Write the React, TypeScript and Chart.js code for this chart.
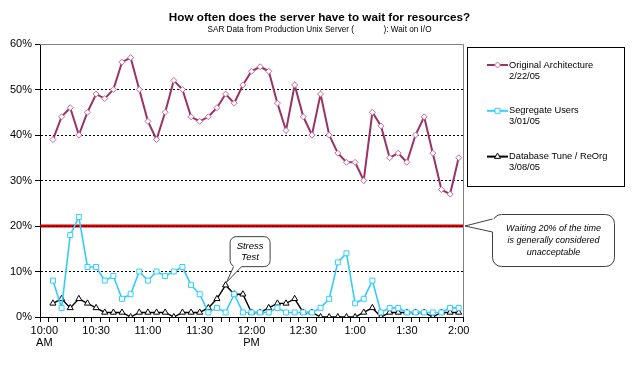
import React, { useEffect, useRef } from 'react';
import { Chart, registerables } from 'chart.js';

Chart.register(...registerables);

const FONT = "'Liberation Sans', Arial, sans-serif";

const TITLE = 'How often does the server have to wait for resources?';
const SUBTITLE = 'SAR Data from Production Unix Server (             ): Wait on I/O';

const times = [
  '10:00', '10:05', '10:10', '10:15', '10:20', '10:25', '10:30', '10:35', '10:40', '10:45', '10:50', '10:55',
  '11:00', '11:05', '11:10', '11:15', '11:20', '11:25', '11:30', '11:35', '11:40', '11:45', '11:50', '11:55',
  '12:00', '12:05', '12:10', '12:15', '12:20', '12:25', '12:30', '12:35', '12:40', '12:45', '12:50', '12:55',
  '1:00', '1:05', '1:10', '1:15', '1:20', '1:25', '1:30', '1:35', '1:40', '1:45', '1:50', '1:55',
  '2:00',
];

const tickLabels: Record<string, string[]> = {
  '10:00': ['10:00', 'AM'],
  '10:30': ['10:30'],
  '11:00': ['11:00'],
  '11:30': ['11:30'],
  '12:00': ['12:00', 'PM'],
  '12:30': ['12:30'],
  '1:00': ['1:00'],
  '1:30': ['1:30'],
  '2:00': ['2:00'],
};

const original = [
  null, 39, 44, 46, 40, 45, 49, 48, 50, 56, 57,
  50, 43, 39, 45, 52, 50, 44, 43, 44, 46,
  49, 47, 51, 54, 55, 54, 47, 41, 51, 44,
  40, 49, 40, 36, 34, 34, 30, 45, 42, 35,
  36, 34, 40, 44, 36, 28, 27, 35,
];

const segregate = [
  null, 8, 2, 18, 22, 11, 11, 8, 9, 4, 5,
  10, 8, 10, 9, 10, 11, 7, 5, 1, 2,
  1, 5, 1, 1, 1, 1, 2, 1, 1, 1,
  1, 2, 4, 12, 14, 3, 4, 8, 1, 2,
  2, 1, 1, 1, 1, 1, 2, 2,
];

const dbTune = [
  null, 3, 4, 2, 4, 3, 2, 1, 1, 1, 0,
  1, 1, 1, 1, 0, 1, 1, 1, 2, 4,
  7, 5, 5, 1, 1, 2, 3, 3, 4, 1,
  1, 0, 0, 0, 0, 0, 1, 2, 0, 1,
  1, 1, 1, 1, 0, 1, 1, 1,
];

const seriesNames = ['Original Architecture', 'Segregate Users', 'Database Tune / ReOrg'];
const seriesDates = ['2/22/05', '3/01/05', '3/08/05'];
const seriesColors = ['#993366', '#33ccff', '#000000'];
const markerColors = ['#cc6699', '#33ccff', '#000000'];
const markerStyles = ['rectRot', 'rect', 'triangle'];

const yMin = 0;
const yMax = 60;
const yStep = 10;
const threshold = 20;
const stressIndex = 21;
const stressNote = ['Stress', 'Test'];
const thresholdNote = ['Waiting 20% of the time', 'is generally considered', 'unacceptable'];

function roundRectPath(ctx: CanvasRenderingContext2D, x: number, y: number, w: number, h: number, r: number) {
  ctx.beginPath();
  ctx.moveTo(x + r, y);
  ctx.arcTo(x + w, y, x + w, y + h, r);
  ctx.arcTo(x + w, y + h, x, y + h, r);
  ctx.arcTo(x, y + h, x, y, r);
  ctx.arcTo(x, y, x + w, y, r);
  ctx.closePath();
}

function drawCallout(
  ctx: CanvasRenderingContext2D,
  box: { x: number; y: number; w: number; h: number; r: number },
  b1: [number, number],
  b2: [number, number],
  inner1: [number, number],
  inner2: [number, number],
  tip: [number, number],
  lines: string[],
  fontSize: number,
  lineGap: number,
) {
  ctx.save();
  ctx.lineWidth = 1;
  ctx.strokeStyle = '#404040';
  ctx.fillStyle = '#ffffff';
  roundRectPath(ctx, box.x, box.y, box.w, box.h, box.r);
  ctx.fill();
  ctx.stroke();
  ctx.beginPath();
  ctx.moveTo(inner1[0], inner1[1]);
  ctx.lineTo(b1[0], b1[1]);
  ctx.lineTo(tip[0], tip[1]);
  ctx.lineTo(b2[0], b2[1]);
  ctx.lineTo(inner2[0], inner2[1]);
  ctx.closePath();
  ctx.fill();
  ctx.beginPath();
  ctx.moveTo(b1[0], b1[1]);
  ctx.lineTo(tip[0], tip[1]);
  ctx.lineTo(b2[0], b2[1]);
  ctx.stroke();
  ctx.fillStyle = '#000';
  ctx.font = `italic ${fontSize}px ${FONT}`;
  ctx.textAlign = 'center';
  ctx.textBaseline = 'middle';
  const cx = box.x + box.w / 2;
  const cy = box.y + box.h / 2;
  const start = cy - ((lines.length - 1) * lineGap) / 2;
  lines.forEach((t, i) => ctx.fillText(t, cx, start + i * lineGap));
  ctx.restore();
}

function drawMarker(ctx: CanvasRenderingContext2D, style: string, x: number, y: number) {
  ctx.beginPath();
  if (style === 'rectRot') {
    const r = 3;
    ctx.moveTo(x, y - r);
    ctx.lineTo(x + r, y);
    ctx.lineTo(x, y + r);
    ctx.lineTo(x - r, y);
    ctx.closePath();
  } else if (style === 'rect') {
    const s = 2.5;
    ctx.rect(x - s, y - s, 2 * s, 2 * s);
  } else {
    const r = 3.5;
    ctx.moveTo(x, y - r);
    ctx.lineTo(x + r * 0.866, y + r * 0.5);
    ctx.lineTo(x - r * 0.866, y + r * 0.5);
    ctx.closePath();
  }
  ctx.fillStyle = '#fff';
  ctx.fill();
  ctx.stroke();
}

const decorPlugin = {
  id: 'decor',
  beforeDatasetsDraw(chart: any) {
    const { ctx, chartArea } = chart;
    const yScale = chart.scales.y;
    ctx.save();
    // plot frame top & right
    ctx.strokeStyle = '#808080';
    ctx.lineWidth = 1;
    ctx.beginPath();
    ctx.moveTo(chartArea.left, Math.round(chartArea.top) + 0.5);
    ctx.lineTo(chartArea.right + 0.5, Math.round(chartArea.top) + 0.5);
    ctx.lineTo(chartArea.right + 0.5, chartArea.bottom);
    ctx.stroke();
    // threshold line
    const ty = yScale.getPixelForValue(threshold);
    ctx.strokeStyle = '#d00000';
    ctx.lineWidth = 3;
    ctx.beginPath();
    ctx.moveTo(chartArea.left, ty);
    ctx.lineTo(chartArea.right, ty);
    ctx.stroke();
    ctx.strokeStyle = '#500000';
    ctx.lineWidth = 1;
    ctx.setLineDash([2, 2]);
    ctx.beginPath();
    ctx.moveTo(chartArea.left, Math.round(ty) + 0.5);
    ctx.lineTo(chartArea.right, Math.round(ty) + 0.5);
    ctx.stroke();
    ctx.restore();
  },
  afterDraw(chart: any) {
    const { ctx, chartArea, width } = chart;
    const xScale = chart.scales.x;
    const yScale = chart.scales.y;
    ctx.save();
    // titles
    ctx.fillStyle = '#000';
    ctx.textAlign = 'center';
    ctx.textBaseline = 'alphabetic';
    ctx.font = `bold 11.7px ${FONT}`;
    ctx.fillText(TITLE, width / 2 + 3, 21);
    ctx.font = `8.2px ${FONT}`;
    ctx.fillText(SUBTITLE, width / 2 + 3, 32);

    // legend
    const lx = chartArea.right + 4;
    const ly = 47;
    ctx.strokeStyle = '#000';
    ctx.lineWidth = 1;
    ctx.strokeRect(lx + 0.5, ly + 0.5, 157, 139);
    ctx.font = `9.3px ${FONT}`;
    ctx.textAlign = 'left';
    ctx.textBaseline = 'middle';
    for (let i = 0; i < seriesNames.length; i++) {
      const y = ly + 18 + i * 45.8;
      ctx.strokeStyle = seriesColors[i];
      ctx.lineWidth = 2;
      ctx.beginPath();
      ctx.moveTo(lx + 20, y);
      ctx.lineTo(lx + 41, y);
      ctx.stroke();
      ctx.lineWidth = 1;
      ctx.strokeStyle = markerColors[i];
      drawMarker(ctx, markerStyles[i], lx + 30.5, y);
      ctx.fillStyle = '#000';
      ctx.fillText(seriesNames[i], lx + 42, y);
      ctx.fillText(seriesDates[i], lx + 42, y + 11);
    }
    ctx.restore();

    // stress callout anchored to the stress point
    const sx = xScale.getPixelForValue(stressIndex);
    const sy = yScale.getPixelForValue(dbTune[stressIndex] as number);
    const sBox = { x: sx + 4.5, y: sy - 48.5, w: 40, h: 30, r: 6 };
    const sb = sBox.y + sBox.h;
    drawCallout(
      ctx, sBox,
      [sx + 8, sb], [sx + 16, sb], [sx + 8, sb - 2], [sx + 16, sb - 2],
      [sx + 1, sy - 3],
      stressNote, 9.5, 10.5,
    );

    // threshold callout anchored to the threshold line
    const tx = chartArea.right + 2;
    const ty = yScale.getPixelForValue(threshold);
    const tBox = { x: tx + 27.5, y: ty - 11.5, w: 122, h: 52, r: 9 };
    drawCallout(
      ctx, tBox,
      [tBox.x, ty - 7], [tBox.x, ty + 6], [tBox.x + 2, ty - 7], [tBox.x + 2, ty + 6],
      [tx, ty],
      thresholdNote, 9, 12.3,
    );
  },
};

export default function App() {
  const ref = useRef<HTMLCanvasElement>(null);
  useEffect(() => {
    const canvas = ref.current;
    if (!canvas) return;
    Chart.defaults.font.family = FONT;
    const mkDataset = (i: number, data: (number | null)[], radius: number, width: number) => ({
      label: seriesNames[i],
      data,
      borderColor: seriesColors[i],
      backgroundColor: seriesColors[i],
      borderWidth: width,
      pointStyle: markerStyles[i] as any,
      pointRadius: radius,
      pointBackgroundColor: '#ffffff',
      pointBorderColor: markerColors[i],
      pointBorderWidth: 1,
      tension: 0,
      spanGaps: false,
    });
    const chart = new Chart(canvas, {
      type: 'line',
      data: {
        labels: times,
        datasets: [
          mkDataset(0, original, 3, 2),
          mkDataset(1, segregate, 3.5, 1.6),
          mkDataset(2, dbTune, 3.5, 1.4),
        ],
      },
      options: {
        animation: false,
        responsive: false,
        events: [],
        layout: { padding: { left: 0, right: 170, top: 44, bottom: 18 } },
        plugins: {
          legend: { display: false },
          tooltip: { enabled: false },
          title: { display: false },
        },
        scales: {
          x: {
            type: 'category',
            offset: true,
            grid: {
              offset: true,
              drawOnChartArea: false,
              drawTicks: true,
              tickLength: 5,
              tickColor: '#000',
              tickWidth: 1,
            },
            border: { color: '#000', width: 1 },
            ticks: {
              autoSkip: false,
              maxRotation: 0,
              minRotation: 0,
              padding: 3,
              color: '#000',
              font: { family: FONT, size: 11, lineHeight: 1.1 },
              callback: (_v: any, i: number) => tickLabels[times[i]] ?? '',
            },
            afterFit: (s: any) => { s.height = 40; },
          },
          y: {
            min: yMin,
            max: yMax,
            ticks: {
              stepSize: yStep,
              color: '#000',
              padding: 3,
              font: { family: FONT, size: 11 },
              callback: (v: any) => `${v}%`,
            },
            grid: {
              color: (c: any) => (c.tick && (c.tick.value === yMin || c.tick.value === yMax)) ? 'rgba(0,0,0,0)' : '#000',
              lineWidth: 1,
              drawTicks: true,
              tickLength: 5,
              tickColor: '#000',
              tickBorderDash: [],
            },
            border: { color: '#000', width: 1, dash: [2, 2] },
            afterFit: (s: any) => { s.width = 40; },
          },
        },
      } as any,
      plugins: [decorPlugin],
    });
    return () => chart.destroy();
  }, []);
  return (
    <div style={{ position: 'absolute', left: 0, top: 0, width: 633, height: 375, background: '#fff' }}>
      <canvas ref={ref} width={633} height={375} style={{ display: 'block', width: 633, height: 375 }} />
    </div>
  );
}
